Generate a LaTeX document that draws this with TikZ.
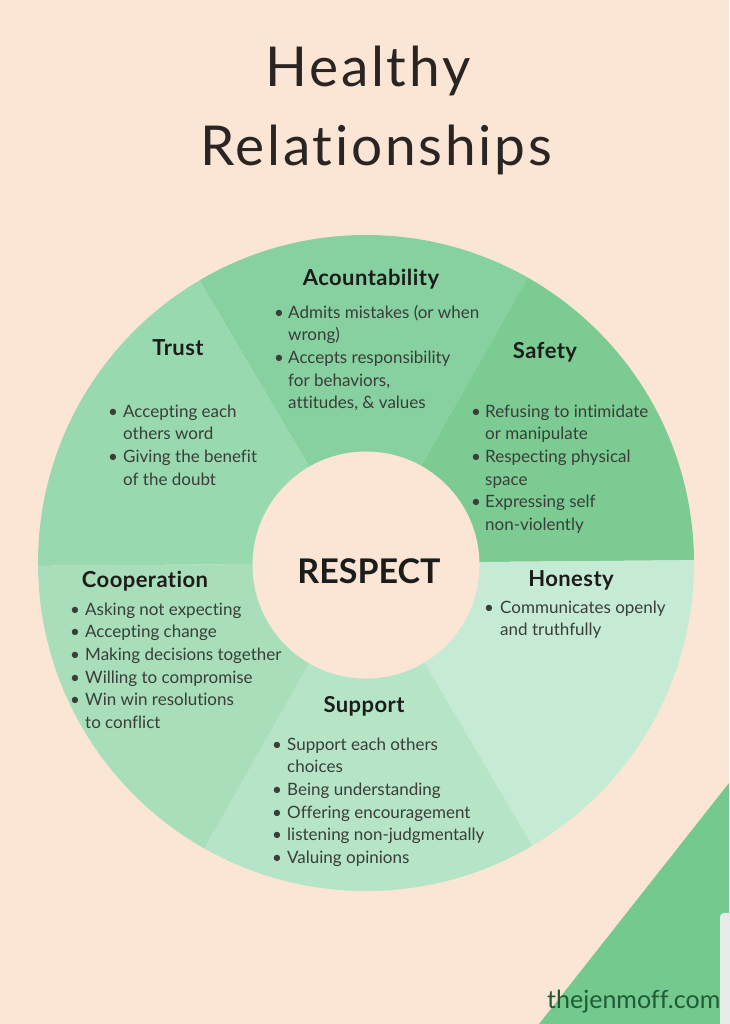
\documentclass[tikz,border=0pt]{standalone}
\usepackage{fontspec}
\setmainfont{Lato}[Ligatures={NoCommon}]
\newfontfamily\titlefont{Lato}[LetterSpace=5, Ligatures={NoCommon}]
\newfontfamily\headfont{Lato}[LetterSpace=2, Ligatures={NoCommon}]
\definecolor{bg}{HTML}{FBE6D6}
\definecolor{safety}{HTML}{7BCB93}
\definecolor{acc}{HTML}{87D1A1}
\definecolor{trust}{HTML}{99D9AF}
\definecolor{coop}{HTML}{A8DFBA}
\definecolor{supp}{HTML}{B5E5C6}
\definecolor{hon}{HTML}{C6EBD4}
\definecolor{corner}{HTML}{74C98F}
\definecolor{headc}{HTML}{1C1C1A}
\definecolor{bodyc}{HTML}{3A3D38}
\definecolor{titlec}{HTML}{2A2522}
\definecolor{webc}{HTML}{1F5C36}
\definecolor{panel}{HTML}{E6ECE8}
\begin{document}
\begin{tikzpicture}[x=1pt,y=-1pt,
  head/.style={font=\headfont\bfseries\fontsize{22}{26}\selectfont, text=headc, inner sep=0pt, anchor=base},
  blist/.style={font=\fontsize{17}{22.7}\selectfont, text=bodyc, inner sep=0pt, anchor=base west},
  titletext/.style={font=\titlefont\fontsize{55}{60}\selectfont, text=titlec, inner sep=0pt, anchor=base}]
\fill[bg] (0,0) rectangle (729,1024);
\useasboundingbox (0,0) rectangle (729,1024);
% corner triangle
\fill[corner] (729,783) -- (729,1024) -- (539,1024) -- cycle;
% title
\node[titletext] (t1) at (368,87) {Healthy};
\node[titletext] (t2) at (376,166) {Relationships};
% wheel
\coordinate (C) at (366,563);
\begin{scope}
\clip (C) circle[radius=328pt];
\foreach \a/\col [evaluate=\a as \s using -\a-0.5, evaluate=\a as \m using -\a-30.5, evaluate=\a as \e using -\a-60.5] in {0/safety, 60/acc, 120/trust, 180/coop, 240/supp, 300/hon} {
  \fill[\col] (C) -- ([shift={(C)}]\s:700) -- ([shift={(C)}]\m:700) -- ([shift={(C)}]\e:700) -- cycle;
}
\end{scope}
\coordinate (Ci) at (366,565);
\fill[bg] (Ci) circle[radius=113.5pt];
\node[font=\bfseries\fontsize{34}{40}\selectfont, text=headc, inner sep=0pt, anchor=base] (respect) at (369,583) {RESPECT};
% headings
\node[head] (hacc) at (371,285) {Acountability};
\node[head] (htrust) at (178,355) {Trust};
\node[head] (hsafe) at (545,358) {Safety};
\node[head] (hcoop) at (145,587) {Cooperation};
\node[head] (hhon) at (571,586) {Honesty};
\node[head] (hsupp) at (364,712) {Support};
% lists
\node[blist] (lacc) at (274,318) {\begin{tabular}[t]{@{}p{14pt}@{}l@{}}
\textbullet & Admits mistakes (or when\\
 & wrong)\\
\textbullet & Accepts responsibility\\
 & for behaviors,\\
 & attitudes, \& values
\end{tabular}};
\node[blist] (ltrust) at (108,417) {\begin{tabular}[t]{@{}p{15pt}@{}l@{}}
\textbullet & Accepting each\\
 & others word\\
\textbullet & Giving the benefit\\
 & of the doubt
\end{tabular}};
\node[blist] (lsafe) at (471,417) {\begin{tabular}[t]{@{}p{14pt}@{}l@{}}
\textbullet & Refusing to intimidate\\
 & or manipulate\\
\textbullet & Respecting physical\\
 & space\\
\textbullet & Expressing self\\
 & non-violently
\end{tabular}};
\node[blist] (lcoop) at (70,615) {\begin{tabular}[t]{@{}p{15pt}@{}l@{}}
\textbullet & Asking not expecting\\
\textbullet & Accepting change\\
\textbullet & Making decisions together\\
\textbullet & Willing to compromise\\
\textbullet & Win win resolutions\\
 & to conflict
\end{tabular}};
\node[blist] (lhon) at (484,613) {\begin{tabular}[t]{@{}p{16pt}@{}l@{}}
\textbullet & Communicates openly\\
 & and truthfully
\end{tabular}};
\node[blist] (lsupp) at (272,750) {\begin{tabular}[t]{@{}p{15pt}@{}l@{}}
\textbullet & Support each others\\
 & choices\\
\textbullet & Being understanding\\
\textbullet & Offering encouragement\\
\textbullet & listening non-judgmentally\\
\textbullet & Valuing opinions
\end{tabular}};
% website
\node[font=\fontsize{25}{30}\selectfont, text=webc, inner sep=0pt, anchor=base west] (web) at (547,1008) {thejenmoff.com};
\fill[panel, rounded corners=4pt] (720,913) rectangle (740,1030);
\end{tikzpicture}
\end{document}
